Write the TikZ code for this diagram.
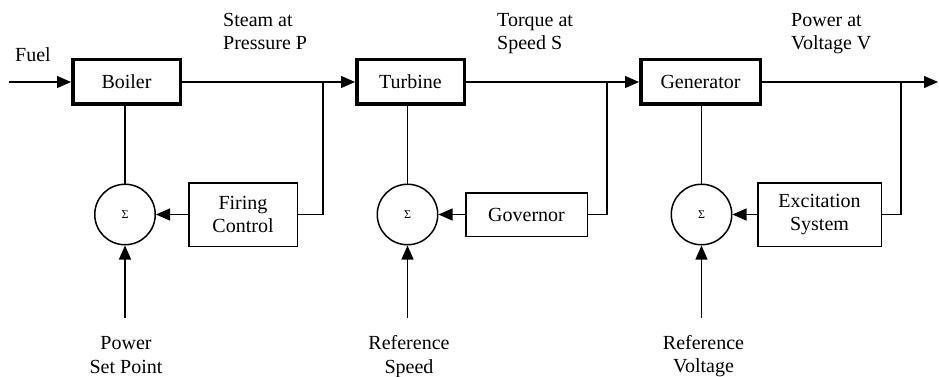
\documentclass[tikz,border=0pt]{standalone}
\usepackage{fontspec}
\setmainfont{Liberation Serif}
\usetikzlibrary{arrows.meta}
\begin{document}
\begin{tikzpicture}[x=1pt,y=-1pt,
  every node/.style={font=\fontsize{20}{23.5}\selectfont},
  mainblk/.style={draw, line width=3.5pt, minimum height=44.5pt, inner sep=0pt},
  ctrlblk/.style={draw, line width=1.5pt, align=center, inner sep=0pt},
  sumnode/.style={draw, circle, line width=1.5pt, minimum size=60.5pt, inner sep=0pt, font=\fontsize{12}{14}\selectfont},
  wire/.style={line width=1.3pt},
  flow/.style={wire, -{Triangle[length=14pt,width=12pt]}},
  lbl/.style={align=left, anchor=base west, inner sep=0pt},
  clbl/.style={align=center, anchor=base, inner sep=0pt}]
\path[use as bounding box] (0,0) rectangle (939,377);
% main blocks
\node[mainblk, minimum width=107.5pt] (boiler) at (126.5,82) {Boiler};
\node[mainblk, minimum width=107.5pt] (turbine) at (410.5,82) {Turbine};
\node[mainblk, minimum width=119.5pt] (generator) at (700.5,82) {Generator};
% control blocks
\node[ctrlblk, minimum width=108.5pt, minimum height=63.5pt] (firing) at (243,214.5) {Firing\\Control};
\node[ctrlblk, minimum width=121.5pt, minimum height=43.5pt] (governor) at (526.5,214.5) {Governor};
\node[ctrlblk, minimum width=123.5pt, minimum height=63.5pt] (excitation) at (819.5,214.5) {Excitation\\System};
% summing junctions
\node[sumnode] (s1) at (125,214.5) {Σ};
\node[sumnode] (s2) at (407.5,214.5) {Σ};
\node[sumnode] (s3) at (701.5,214.5) {Σ};
% coordinates
\coordinate (fuelin) at (9,82);
\coordinate (j1) at (323,82);
\coordinate (j2) at (607,82);
\coordinate (j3) at (901,82);
\coordinate (out) at (938,82);
\coordinate (r1) at (125,318);
\coordinate (r2) at (407.5,318);
\coordinate (r3) at (701.5,318);
% forward path
\draw[flow] (fuelin) -- (boiler.west);
\draw[flow] (boiler.east) -- (turbine.west);
\draw[flow] (turbine.east) -- (generator.west);
\draw[flow] (generator.east) -- (out);
% feedback
\draw[wire] (j1) |- (firing.east);
\draw[wire] (j2) |- (governor.east);
\draw[wire] (j3) |- (excitation.east);
\draw[flow] (firing.west) -- (s1.east);
\draw[flow] (governor.west) -- (s2.east);
\draw[flow] (excitation.west) -- (s3.east);
% sum to blocks
\draw[wire] (s1.north) -- (s1.north |- boiler.south);
\draw[wire] (s2.north) -- (s2.north |- turbine.south);
\draw[wire] (s3.north) -- (s3.north |- generator.south);
% references
\draw[flow] (r1) -- (s1.south);
\draw[flow] (r2) -- (s2.south);
\draw[flow] (r3) -- (s3.south);
% labels
\node[lbl] (fuel) at (15,61.5) {Fuel};
\node[lbl] (steam) at (223,50) {Steam at\\Pressure P};
\node[lbl] (torque) at (497,50) {Torque at\\Speed S};
\node[lbl] (power) at (791,50) {Power at\\Voltage V};
\node[clbl] (psp) at (126,373) {Power\\Set Point};
\node[clbl] (rs) at (409,373) {Reference\\Speed};
\node[clbl] (rv) at (703.5,372.5) {Reference\\Voltage};
\end{tikzpicture}
\end{document}
